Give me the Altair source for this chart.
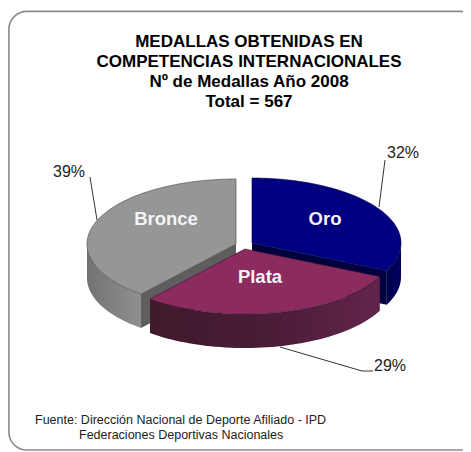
import math
import altair as alt
import pandas as pd

CATEGORIES = ["Oro", "Plata", "Bronce"]
VALUES = [32, 29, 39]
PERCENT_LABELS = ["32%", "29%", "39%"]
TITLE_LINES = [
    "MEDALLAS OBTENIDAS EN",
    "COMPETENCIAS INTERNACIONALES",
    "Nº de Medallas Año 2008",
    "Total = 567",
]
FOOTER_LINES = [
    "Fuente: Dirección Nacional de Deporte Afiliado - IPD",
    "Federaciones  Deportivas Nacionales",
]

W, H = 455, 444
OFF = 8  # page margin: picture coordinates minus this give chart coordinates
RX, RY, DEPTH = 149, 65, 34
APEX = {"Oro": (252, 243), "Plata": (245, 249), "Bronce": (236, 244)}
TOP = {"Oro": "#000080", "Plata": "#8c2b60", "Bronce": "#969696"}
WALL = {"Oro": "#00003f", "Plata": "#4a1a38", "Bronce": "#5e5e5e"}
SIDE = {
    "Oro": ["#000060", "#00004c"],
    "Plata": ["#62244a", "#4a1c36", "#3f1a2c"],
    "Bronce": ["#909090", "#727272"],
}
EDGE = {"Oro": "#000050", "Plata": "#4a1a38", "Bronce": "#444444"}

xs = alt.X("x:Q", scale=alt.Scale(domain=[0, W], range=[0, W]), axis=None)
ys = alt.Y("y:Q", scale=alt.Scale(domain=[0, H], range=[0, H]), axis=None)
proj = alt.Projection(type="identity", scale=1, translate=[0, 0])


def pt(cat, deg):
    ax, ay = APEX[cat]
    r = math.radians(deg)
    return (ax + RX * math.sin(r) - OFF, ay - RY * math.cos(r) - OFF)


def arc(cat, a, b, step=2.0):
    n = max(2, int(abs(b - a) / step) + 1)
    return [pt(cat, a + (b - a) * i / (n - 1)) for i in range(n)]


def shape(points, fill, stroke=None, sw=0.6):
    ring = [list(p) for p in points] + [list(points[0])]
    feature = {
        "type": "Feature",
        "properties": {},
        "geometry": {"type": "Polygon", "coordinates": [ring]},
    }
    kw = {"fill": fill, "strokeWidth": sw}
    kw["stroke"] = stroke if stroke else "transparent"
    return alt.Chart(alt.Data(values=[feature])).mark_geoshape(**kw).project(**proj.to_dict())


def gradient(colors):
    stops = [alt.GradientStop(offset=i / (len(colors) - 1), color=c) for i, c in enumerate(colors)]
    return alt.LinearGradient(gradient="linear", stops=stops, x1=0, x2=1, y1=0, y2=0)


layers = []

frame = pd.DataFrame([{"x": 0.9, "x2": 470, "y": 3.4, "y2": 442}])
layers.append(
    alt.Chart(frame)
    .mark_rect(fill="white", stroke="#8a8a8a", strokeWidth=1.6, cornerRadius=18)
    .encode(xs, ys, x2="x2:Q", y2="y2:Q")
)

bounds = {}
start = 0.0
total = sum(VALUES)
for c, v in zip(CATEGORIES, VALUES):
    bounds[c] = (start, start + v / total * 360)
    start += v / total * 360

for c in ["Bronce", "Oro", "Plata"]:
    a, b = bounds[c]
    ax, ay = APEX[c]
    apex = (ax - OFF, ay - OFF)
    edge_deg = a if c == "Bronce" else b
    e = pt(c, edge_deg)
    wall = [apex, e, (e[0], e[1] + DEPTH), (apex[0], apex[1] + DEPTH)]
    layers.append(shape(wall, WALL[c]))
    lo, hi = max(a, 90), min(b, 270)
    if hi > lo:
        top_edge = arc(c, lo, hi)
        rim = top_edge + [(x, y + DEPTH) for x, y in reversed(top_edge)]
        layers.append(shape(rim, gradient(list(reversed(SIDE[c])))))
    layers.append(shape([apex] + arc(c, a, b), TOP[c], EDGE[c]))

leaders = pd.DataFrame(
    [
        {"g": "Oro", "o": 0, "x": 377, "y": 152},
        {"g": "Oro", "o": 1, "x": 371, "y": 199},
        {"g": "Bronce", "o": 0, "x": 82, "y": 169},
        {"g": "Bronce", "o": 1, "x": 89, "y": 212},
        {"g": "Plata", "o": 0, "x": 272, "y": 339},
        {"g": "Plata", "o": 1, "x": 354, "y": 363},
        {"g": "Plata", "o": 2, "x": 365, "y": 363},
    ]
)
layers.append(
    alt.Chart(leaders)
    .mark_line(color="#333333", strokeWidth=1)
    .encode(xs, ys, detail="g:N", order="o:Q")
)

FONT = "Liberation Sans"


def text_layer(rows, **kw):
    return alt.Chart(pd.DataFrame(rows)).mark_text(font=FONT, baseline="alphabetic", **kw).encode(xs, ys, text="t:N")


title_y = [38.7, 58.7, 79, 98.7]
layers.append(
    text_layer(
        [{"t": t, "x": 241, "y": y} for t, y in zip(TITLE_LINES, title_y)],
        fontSize=17, fontWeight="bold", align="center", color="#000000",
    )
)

name_pos = {"Oro": (317, 217), "Plata": (252, 275), "Bronce": (158, 217)}
layers.append(
    text_layer(
        [{"t": c, "x": name_pos[c][0], "y": name_pos[c][1]} for c in CATEGORIES],
        fontSize=18.5, fontWeight="bold", align="center", color="#f4f4f8",
    )
)

pct_pos = {"Oro": (395, 150), "Plata": (382, 363), "Bronce": (61, 169)}
layers.append(
    text_layer(
        [{"t": p, "x": pct_pos[c][0], "y": pct_pos[c][1]} for c, p in zip(CATEGORIES, PERCENT_LABELS)],
        fontSize=16, align="center", color="#222222",
    )
)

layers.append(
    text_layer(
        [
            {"t": FOOTER_LINES[0], "x": 27, "y": 416},
            {"t": FOOTER_LINES[1], "x": 71, "y": 431},
        ],
        fontSize=12.5, align="left", color="#222222",
    )
)

chart = (
    alt.layer(*layers)
    .properties(width=W, height=H, padding=0, autosize=alt.AutoSizeParams(type="none"), background="white")
    .configure_view(stroke=None)
)
chart.save("out.html", embed_options={"renderer": "svg", "actions": False})
